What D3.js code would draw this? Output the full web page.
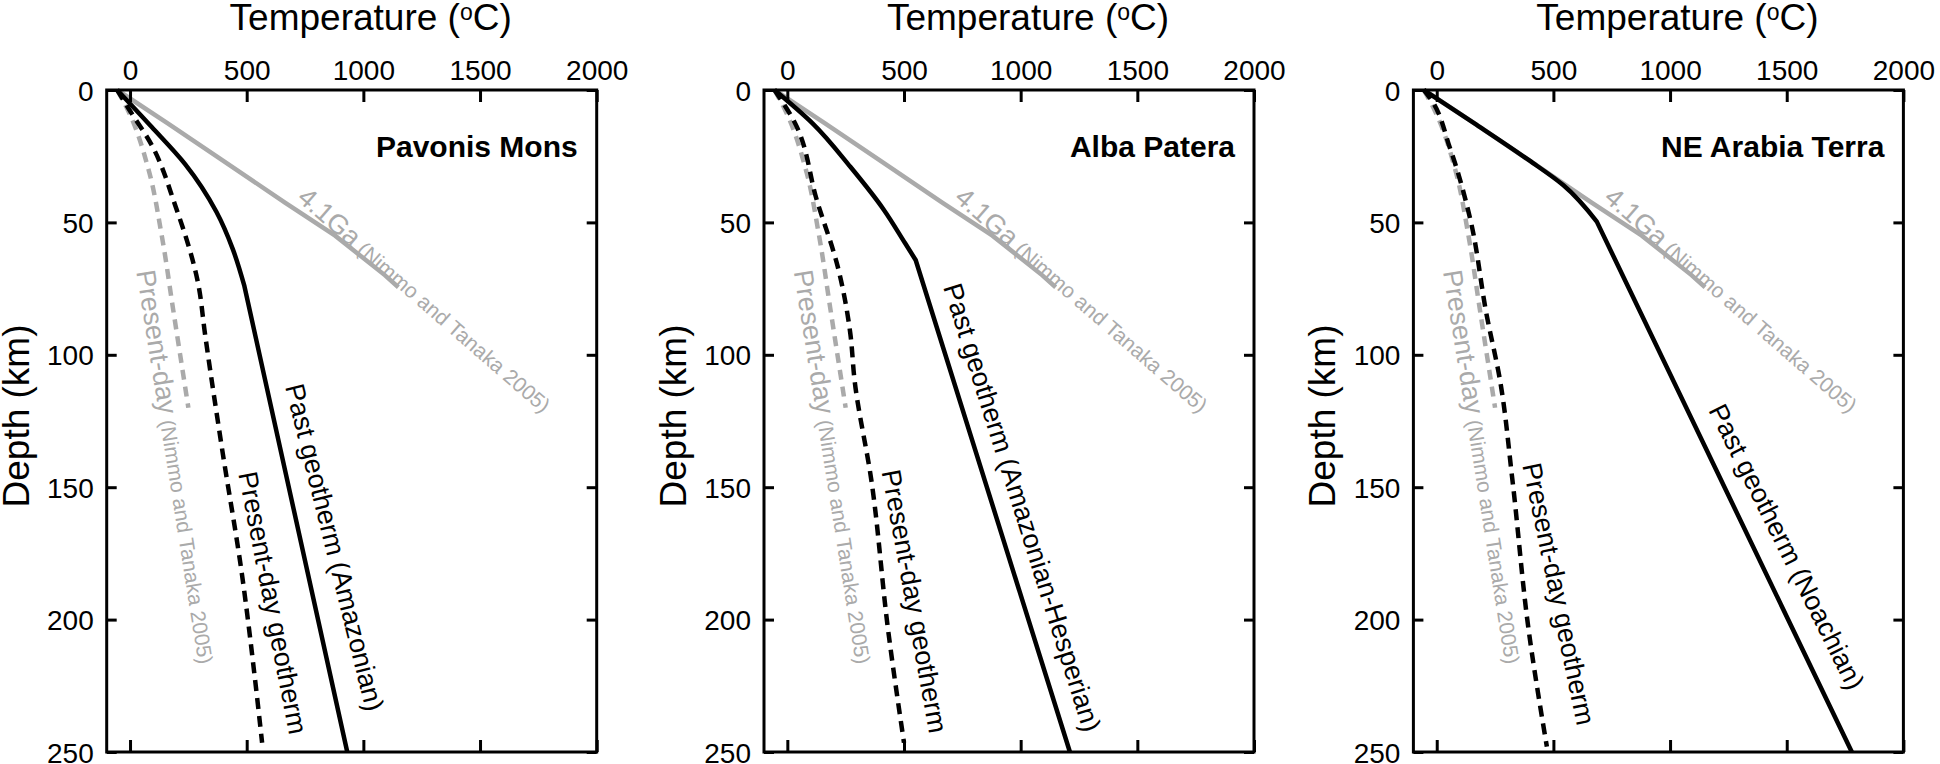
<!DOCTYPE html>
<html>
<head>
<meta charset="utf-8">
<script src="https://cdn.jsdelivr.net/npm/d3@7"></script>
<style>
  html, body { margin: 0; padding: 0; background: #fff; }
  svg text { font-family: "Liberation Sans", Arial, Helvetica, sans-serif; }
</style>
</head>
<body>
<svg id="chart" width="1940" height="764"></svg>
<script>
// ---------------- DATA ----------------
const tempTicks = [0, 500, 1000, 1500, 2000];
const depthTicks = [0, 50, 100, 150, 200, 250];
const panelNames = ["Pavonis Mons", "Alba Patera", "NE Arabia Terra"];
const pastLabels = ["Past geotherm (Amazonian)", "Past geotherm (Amazonian-Hesperian)", "Past geotherm (Noachian)"];
const presentLabel = "Present-day geotherm";
const ref41GaLabel = ["4.1Ga", " (Nimmo and Tanaka 2005)"];
const refPresentLabel = ["Present-day", " (Nimmo and Tanaka 2005)"];

// Reference geotherms (Nimmo and Tanaka 2005), [temperature °C, depth km]
const ref41Ga = [[-55, 0], [160, 12.5], [395, 26.5], [664, 42.5], [879, 55], [1093, 70], [1150, 74.5]];
const refPresent = [[-55, 0], [-7, 8], [78, 29.6], [136, 55], [185, 83], [250, 120]];

// Past geotherms: curved upper part (to the kink) and straight lower part (from the kink)
const pavonisPastUpper = [[-55, 0], [93, 14], [236, 28], [370, 46], [440, 60], [490, 74]];
const pavonisPastLower = [[490, 74], [931, 250]];
const albaPastUpper = [[-55, 0], [108, 12.6], [270, 29], [414, 45.3], [505, 57.9], [550, 64.2]];
const albaPastLower = [[550, 64.2], [1211, 250]];
const arabiaPastUpper = [[-55, 0], [160, 12.5], [395, 26.5], [543, 36], [686, 49.7]];
const arabiaPastLower = [[686, 49.7], [1779, 250]];

// Present-day geotherms
const pavonisPresent = [[-55, 0], [-7, 6.9], [93, 20.8], [193, 43.4], [293, 73.6], [321, 91.9], [393, 134.7], [479, 182.5], [536, 222.8], [566, 246.5]];
const albaPresent = [[-55, 0], [30, 12], [126, 41.5], [216, 66.7], [270, 92], [288, 109.5], [360, 147.3], [432, 204], [500, 246.5]];
const arabiaPresent = [[-55, 0], [-29, 3], [57, 22], [143, 48.5], [214, 85], [271, 109.5], [324, 147], [394, 204], [472, 248]];

const pastUpperSeries = [pavonisPastUpper, albaPastUpper, arabiaPastUpper];
const pastLowerSeries = [pavonisPastLower, albaPastLower, arabiaPastLower];
const presentSeries = [pavonisPresent, albaPresent, arabiaPresent];

// ---------------- LAYOUT ----------------
const panelLeft = [106.7, 764, 1413.4];
const panelW = 490, panelTop = 90, panelH = 662;
// label anchors [T, depth, angle]
const pastAnchor = [[664, 112, 76], [667, 74.4, 72.5], [1163, 120.8, 63.5]];
const presentAnchor = [[464, 144.8, 79], [404, 144.1, 79.7], [367, 141.6, 78.2]];
const ref41Anchor = [711, 41.4, 41];
const refPresentAnchor = [27, 68.5, 81];

const GRAY = "#aaaaaa";
const svg = d3.select("#chart");

panelLeft.forEach((left, i) => {
  const x = d3.scaleLinear().domain([-100, 2000]).range([0, panelW]);
  const y = d3.scaleLinear().domain([0, 250]).range([0, panelH]);
  const g = svg.append("g").attr("transform", `translate(${left},${panelTop})`);

  const smooth = d3.line().x(p => x(p[0])).y(p => y(p[1])).curve(d3.curveMonotoneY);
  const straight = d3.line().x(p => x(p[0])).y(p => y(p[1]));

  // curves
  g.append("path").datum(ref41Ga).attr("d", straight)
    .attr("fill", "none").attr("stroke", GRAY).attr("stroke-width", 4.5);
  g.append("path").datum(refPresent).attr("d", smooth)
    .attr("fill", "none").attr("stroke", GRAY).attr("stroke-width", 4.5)
    .attr("stroke-dasharray", "10,7");
  g.append("path").datum(presentSeries[i]).attr("d", smooth)
    .attr("fill", "none").attr("stroke", "#000").attr("stroke-width", 4.5)
    .attr("stroke-dasharray", "11,7");
  const upperD = smooth(pastUpperSeries[i]);
  const lowerD = straight(pastLowerSeries[i]).replace(/^M/, "L");
  g.append("path").attr("d", upperD + lowerD)
    .attr("fill", "none").attr("stroke", "#000").attr("stroke-width", 4.5)
    .attr("stroke-linejoin", "round");

  // axes
  const fmt = d3.format("d");
  const axTop = g.append("g").call(d3.axisTop(x).tickValues(tempTicks).tickFormat(fmt).tickSizeInner(-12).tickSizeOuter(0).tickPadding(10));
  const axBot = g.append("g").attr("transform", `translate(0,${panelH})`)
    .call(d3.axisBottom(x).tickValues(tempTicks).tickSizeInner(-12).tickSizeOuter(0).tickFormat(""));
  const axLeft = g.append("g").call(d3.axisLeft(y).tickValues(depthTicks).tickFormat(fmt).tickSizeInner(-10).tickSizeOuter(0).tickPadding(13));
  const axRight = g.append("g").attr("transform", `translate(${panelW},0)`)
    .call(d3.axisRight(y).tickValues(depthTicks).tickSizeInner(-10).tickSizeOuter(0).tickFormat(""));
  [axTop, axBot, axLeft, axRight].forEach(a => {
    a.select(".domain").remove();
    a.selectAll(".tick line").attr("stroke", "#000").attr("stroke-width", 3);
    a.selectAll(".tick text").attr("fill", "#000").style("font-size", "28px")
      .style("font-family", '"Liberation Sans", Arial, sans-serif');
  });
  axTop.selectAll(".tick text").attr("dy", "0em");
  axLeft.selectAll(".tick text").attr("dy", "0.36em");

  g.append("rect").attr("x", 0).attr("y", 0).attr("width", panelW).attr("height", panelH)
    .attr("fill", "none").attr("stroke", "#000").attr("stroke-width", 3);

  // axis titles
  const tt = g.append("text").attr("x", panelW / 2 + 19).attr("y", -60)
    .attr("text-anchor", "middle").style("font-size", "37px").attr("fill", "#000");
  tt.append("tspan").text("Temperature (");
  tt.append("tspan").text("o").style("font-size", "23px").attr("dy", "-10");
  tt.append("tspan").text("C)").attr("dy", "10");

  g.append("text").attr("transform", `translate(${-78},${panelH / 2 - 5}) rotate(-90)`)
    .attr("text-anchor", "middle").style("font-size", "37px").attr("fill", "#000")
    .text("Depth (km)");

  // panel name
  g.append("text").attr("x", panelW - 19).attr("y", 67).attr("text-anchor", "end")
    .style("font-size", "30px").style("font-weight", "bold").attr("fill", "#000")
    .text(panelNames[i]);

  // curve labels
  function rotLabel(anchor, parts, sizes, color) {
    const t = g.append("text")
      .attr("transform", `translate(${x(anchor[0])},${y(anchor[1])}) rotate(${anchor[2]})`)
      .attr("fill", color);
    parts.forEach((p, k) => t.append("tspan").text(p).style("font-size", sizes[k] + "px"));
    t.attr("xml:space", "preserve").style("white-space", "pre");
    return t;
  }
  rotLabel(ref41Anchor, ref41GaLabel, [27, 21], GRAY);
  rotLabel(refPresentAnchor, refPresentLabel, [27, 21], GRAY);
  rotLabel(pastAnchor[i], [pastLabels[i]], [27], "#000");
  rotLabel(presentAnchor[i], [presentLabel], [27], "#000");
});
</script>
</body>
</html>
